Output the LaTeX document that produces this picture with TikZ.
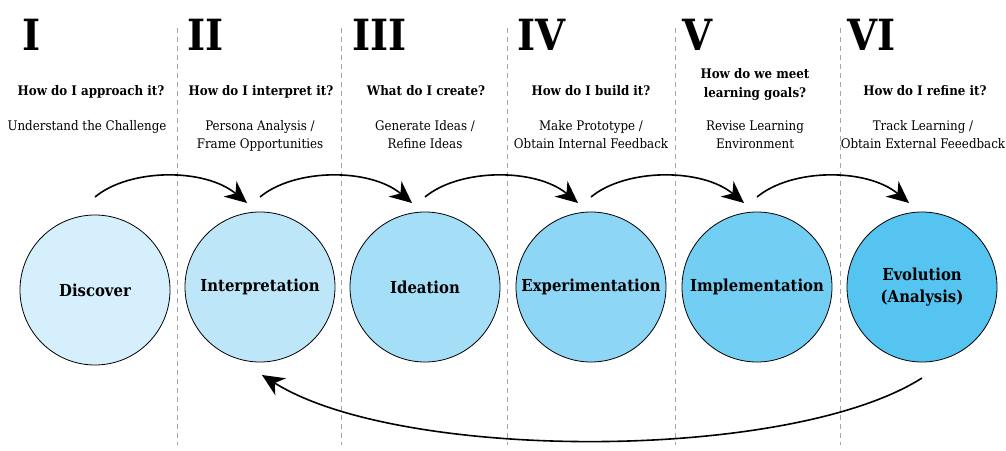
\documentclass[tikz,border=0pt]{standalone}
\usepackage{fontspec}
\setmainfont{DejaVu Serif Condensed}
\usetikzlibrary{arrows.meta}
\definecolor{cA}{HTML}{D5EFFC}
\definecolor{cB}{HTML}{BDE6F9}
\definecolor{cC}{HTML}{A5DEF7}
\definecolor{cD}{HTML}{8DD6F5}
\definecolor{cE}{HTML}{73CEF3}
\definecolor{cF}{HTML}{55C4F0}
\begin{document}
\begin{tikzpicture}[x=1pt,y=-1pt,
  stage/.style={circle, draw=black, line width=0.8pt, minimum size=150pt, inner sep=0pt, font=\bfseries\fontsize{16.5}{22}\selectfont, align=center},
  numeral/.style={anchor=base west, font=\bfseries\fontsize{43}{43}\selectfont, inner sep=0pt},
  question/.style={anchor=base, inner sep=0pt, font=\bfseries\fontsize{13.2}{19}\selectfont, align=center},
  answer/.style={anchor=base, inner sep=0pt, font=\fontsize{13.2}{18}\selectfont, align=center},
  sep/.style={draw=black!35, dashed, line width=0.7pt, dash pattern=on 5pt off 4pt},
  flow/.style={line width=1.6pt, -{Stealth[length=22pt,width=20pt,inset=7pt]}}
]
\useasboundingbox (0,0) rectangle (1006,450);
% separators
\foreach \i/\x in {1/177,2/341,3/507,4/675,5/840}{
  \coordinate (st\i) at (\x,28);
  \coordinate (sb\i) at (\x,445);
  \draw[sep] (st\i) -- (sb\i);
}
% stages
\node[stage, fill=cA] (s1) at (95,290) {Discover};
\node[stage, fill=cB] (s2) at (260,287) {Interpretation};
\node[stage, fill=cC] (s3) at (425,287) {Ideation};
\node[stage, fill=cD] (s4) at (591,287) {Experimentation};
\node[stage, fill=cE] (s5) at (757,287) {Implementation};
\node[stage, fill=cF] (s6) at (922,287) {Evolution\\(Analysis)};
% numerals
\node[numeral] (n1) at (22,50) {I};
\node[numeral] (n2) at (187,50) {II};
\node[numeral] (n3) at (352,50) {III};
\node[numeral] (n4) at (517,50) {IV};
\node[numeral] (n5) at (682,50) {V};
\node[numeral] (n6) at (847,50) {VI};
% questions
\node[question] (q1) at (91,95) {How do I approach it?};
\node[question] (q2) at (261,95) {How do I interpret it?};
\node[question] (q3) at (426,95) {What do I create?};
\node[question] (q4) at (591,95) {How do I build it?};
\node[question] (q5) at (755,97) {How do we meet\\learning goals?};
\node[question] (q6) at (925,95) {How do I refine it?};
% answers
\node[answer] (r1) at (87,130) {Understand the Challenge};
\node[answer] (r2) at (260,148) {Persona Analysis /\\Frame Opportunities};
\node[answer] (r3) at (425,148) {Generate Ideas /\\Refine Ideas};
\node[answer] (r4) at (591,148) {Make Prototype /\\Obtain Internal Feedback};
\node[answer] (r5) at (755,148) {Revise Learning\\Environment};
\node[answer] (r6) at (923,148) {Track Learning /\\Obtain External Feeedback};
% arrow endpoints
\foreach \i/\x in {1/95,2/260,3/425,4/591,5/757,6/922}{
  \coordinate (o\i) at (\x,197);
}
\foreach \i/\x in {2/247,3/412,4/578,5/744,6/909}{
  \coordinate (t\i) at (\x,203);
}
\draw[flow] (o1) .. controls (130,168) and (205,168) .. (t2);
\draw[flow] (o2) .. controls (295,168) and (370,168) .. (t3);
\draw[flow] (o3) .. controls (460,168) and (536,168) .. (t4);
\draw[flow] (o4) .. controls (626,168) and (702,168) .. (t5);
\draw[flow] (o5) .. controls (792,168) and (867,168) .. (t6);
\coordinate (bs) at (922,378);
\coordinate (be) at (262,375);
\draw[flow] (bs) .. controls (790,462) and (400,462) .. (be);
\end{tikzpicture}
\end{document}
